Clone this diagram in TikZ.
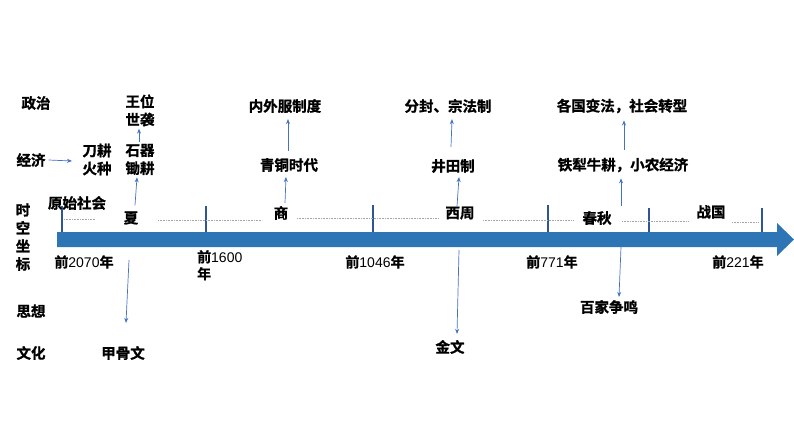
\documentclass[tikz,border=0pt]{standalone}
\usepackage{fontspec}
\setmainfont{Liberation Sans}
\newfontfamily\cjk{Noto Sans CJK SC}[UprightFont={* Bold},FakeBold=1.2]
\usetikzlibrary{arrows.meta}
\definecolor{barblue}{HTML}{2E75B6}
\definecolor{tickblue}{HTML}{2F5597}
\definecolor{arrblue}{HTML}{4472C4}
\tikzset{
    LB/.style ={font=\fontsize{14.5}{18}\cjk, inner sep=1pt, align=center},
    YR/.style ={font=\fontsize{14}{17}\selectfont, inner sep=1pt, align=left},
    TK/.style ={tickblue, line width=1.4pt},
    DT/.style ={gray!70, densely dotted, line width=0.6pt},
    AR/.style ={arrblue, line width=0.7pt, -{Stealth[length=5pt,width=4pt]}}
}
\newcommand{\Yr}[1]{{\cjk 前}#1{\cjk 年}}

\begin{document}
\begin{tikzpicture}[x=1pt,y=-1pt]
        \useasboundingbox (0,0) rectangle (794,447);
        % time bar
        \fill[barblue] (57,232) -- (777,232) -- (777,223) -- (794,239.5) -- (777,256) -- (777,247) -- (57,247) -- cycle;
        \foreach \x/\t in {62/206,206/206,373/205,548/205,649/208,762/208}
            \draw[TK] (\x,\t) -- (\x,232);
        \foreach \a/\b/\y in {64/95/219,158/262/220,297/438/218,483/573/220,622/689/221,732/759/222}
            \draw[DT] (\a,\y) -- (\b,\y);
        % rows
        \node[LB] (zz) at (36,103) {政治};
        \node[LB] (jj) at (31,160) {经济};
        \node[LB] (sk) at (23,237) {时\\空\\坐\\标};
        \node[LB] (sx) at (31,311) {思想};
        \node[LB] (wh) at (31,353) {文化};
        % eras
        \node[LB] (ys) at (77,203) {原始社会};
        \node[LB] (xia) at (131,218) {夏};
        \node[LB] (shang) at (281,213) {商};
        \node[LB] (xz) at (460,213) {西周};
        \node[LB] (cq) at (597,218) {春秋};
        \node[LB] (zg) at (711,212) {战国};
        % years
        \node[YR] (y1) at (84,262) {\Yr{2070}};
        \node[YR,anchor=north west] (y2) at (196,249) {{\cjk 前}1600\\{\cjk 年}};
        \node[YR] (y3) at (375,262) {\Yr{1046}};
        \node[YR] (y4) at (552,262) {\Yr{771}};
        \node[YR] (y5) at (738,262) {\Yr{221}};
        % xia
        \node[LB] (dg) at (97,159.5) {刀耕\\火种};
        \node[LB] (sq) at (140,159.5) {石器\\锄耕};
        \node[LB] (ww) at (140,110.5) {王位\\世袭};
        \node[LB] (jgw) at (123,353) {甲骨文};
        \coordinate (jjend) at (72,161);
        \coordinate (xiad) at (129,260);
        \draw[AR] ([xshift=2pt]jj.east) -- (jjend);
        \draw[AR] ([xshift=4pt,yshift=5pt]xia.north) -- ([xshift=-3pt,yshift=-1pt]sq.south);
        \draw[AR] ([xshift=-1pt,yshift=1pt]sq.north) -- ([xshift=-1pt,yshift=-1pt]ww.south);
        \draw[AR] (xiad) -- ([xshift=3pt,yshift=22pt]jgw.north);
        % shang
        \node[LB] (qt) at (289,165) {青铜时代};
        \node[LB] (nw) at (285,106) {内外服制度};
        \draw[AR] ([xshift=4pt,yshift=2pt]shang.north) -- ([xshift=-3pt,yshift=-4pt]qt.south);
        \draw[AR] ([xshift=-1pt,yshift=6pt]qt.north) -- ([xshift=3pt,yshift=-5pt]nw.south);
        % xizhou
        \node[LB] (jt) at (453,166) {井田制};
        \node[LB] (ff) at (448,106) {分封、宗法制};
        \node[LB] (jw) at (450,347) {金文};
        \coordinate (xzd) at (459,250);
        \draw[AR] ([xshift=-3pt,yshift=-1pt]xz.north) -- ([xshift=6pt,yshift=-3pt]jt.south);
        \draw[AR] ([xshift=-2pt,yshift=11pt]jt.north) -- ([xshift=4pt,yshift=-5pt]ff.south);
        \draw[AR] (xzd) -- ([xshift=7pt,yshift=5pt]jw.north);
        % chunqiu
        \node[LB] (tl) at (623,165) {铁犁牛耕，小农经济};
        \node[LB] (gg) at (622,106) {各国变法，社会转型};
        \node[LB] (bj) at (609,307) {百家争鸣};
        \coordinate (cqd) at (621,247);
        \draw[AR] ([xshift=24pt,yshift=4pt]cq.north) -- ([xshift=-2pt,yshift=-5pt]tl.south);
        \draw[AR] ([xshift=1pt,yshift=7pt]tl.north) -- ([xshift=2pt,yshift=-6pt]gg.south);
        \draw[AR] (cqd) -- ([xshift=10pt,yshift=2pt]bj.north);
\end{tikzpicture}
\end{document}
